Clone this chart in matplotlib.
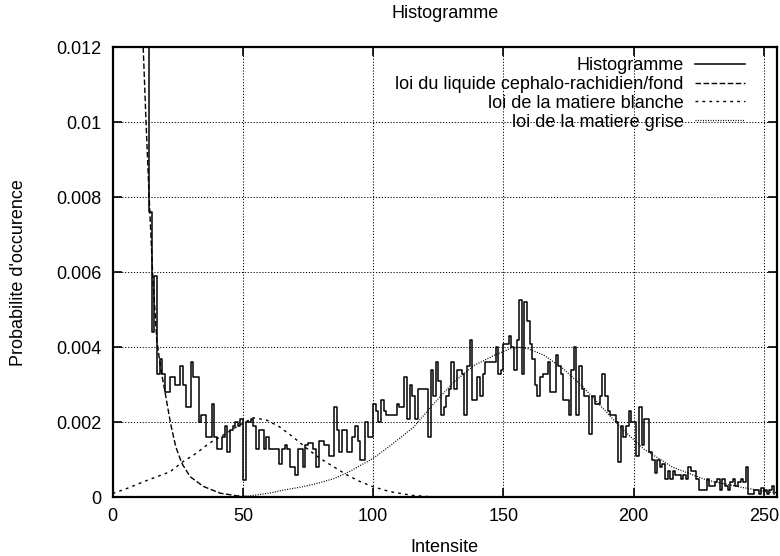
import numpy as np
from matplotlib import pyplot as plt

plt.rcParams['font.family'] = ['Liberation Sans', 'DejaVu Sans']

## histogram : probability per intensity bin (bins 13..254, nothing below 13)
intensity = np.arange(13, 255)
prob = [
    0.0200, 0.0076, 0.0044, 0.0059, 0.0033, 0.0037, 0.0033, 0.0028, 0.0028, 0.0032,
    0.0032, 0.0030, 0.0030, 0.0035, 0.0030, 0.0024, 0.0024, 0.0036, 0.0032, 0.0032,
    0.0020, 0.0022, 0.0022, 0.0016, 0.0016, 0.0025, 0.0016, 0.0013, 0.0013, 0.0016,
    0.0019, 0.0012, 0.0018, 0.0019, 0.0020, 0.0019, 0.0021, 0.00045, 0.0020, 0.0020,
    0.0021, 0.0019, 0.0013, 0.0018, 0.0018, 0.0013, 0.0016, 0.0013, 0.0013, 0.0013,
    0.0013, 0.0009, 0.0013, 0.0014, 0.0013, 0.0008, 0.0008, 0.0006, 0.0013, 0.0013,
    0.0008, 0.0014, 0.00145, 0.00145, 0.0013, 0.0008, 0.0015, 0.0015, 0.0014, 0.0014,
    0.0011, 0.0011, 0.0024, 0.0018, 0.0012, 0.0018, 0.0018, 0.0012, 0.0012, 0.0016,
    0.0019, 0.0015, 0.0010, 0.0010, 0.0020, 0.0016, 0.0016, 0.0025, 0.0023, 0.0020,
    0.0026, 0.0023, 0.0022, 0.0022, 0.0022, 0.0022, 0.0025, 0.0024, 0.0024, 0.0032,
    0.0021, 0.0030, 0.0027, 0.0021, 0.0029, 0.0029, 0.0029, 0.0029, 0.0016, 0.0034,
    0.0027, 0.0036, 0.0031, 0.0022, 0.0024, 0.0027, 0.0029, 0.0036, 0.0029, 0.0034,
    0.0034, 0.0033, 0.0022, 0.0035, 0.0042, 0.0026, 0.0026, 0.0032, 0.0027, 0.0033,
    0.0036, 0.0036, 0.0036, 0.0036, 0.0040, 0.0033, 0.0034, 0.0041, 0.0041, 0.0043,
    0.0040, 0.0034, 0.0042, 0.00525, 0.0033, 0.0052, 0.0047, 0.0041, 0.0037, 0.0030,
    0.0027, 0.0032, 0.0033, 0.0033, 0.0036, 0.0028, 0.0028, 0.0038, 0.0035, 0.0033,
    0.0026, 0.0026, 0.0022, 0.0034, 0.0040, 0.0022, 0.0035, 0.0029, 0.0027, 0.0027,
    0.0017, 0.0027, 0.0025, 0.0025, 0.0027, 0.0033, 0.0027, 0.0023, 0.0022, 0.0022,
    0.0020, 0.00094, 0.0019, 0.0016, 0.0019, 0.0023, 0.0020, 0.0020, 0.0011, 0.0024,
    0.0014, 0.0021, 0.0021, 0.0012, 0.0010, 0.00064, 0.0010, 0.0008, 0.0009, 0.0005,
    0.0007, 0.0005, 0.0007, 0.0006, 0.0006, 0.0005, 0.0006, 0.0005, 0.0008, 0.0007,
    0.0007, 0.0005, 0.0002, 0.0002, 0.0002, 0.0005, 0.0003, 0.0003, 0.0004, 0.0005,
    0.0002, 0.0005, 0.0003, 0.0002, 0.0004, 0.0005, 0.0003, 0.0004, 0.0005, 0.0004,
    0.0008, 0.0001, 0.0001, 0.0002, 0.0002, 0.0001, 0.00024, 0.0002, 0.0001, 0.0002,
    0.0003, 0.0001,
]

## fitted laws
csf_x = [11.0, 11.7, 12.8, 14.0, 15.3, 16.9, 18.5, 20.1, 22.2, 24.2, 26.5, 29.7, 34.8, 41.2, 47.6, 55.0]
csf_y = [0.0135, 0.0120, 0.0100, 0.0080, 0.0060, 0.0042, 0.0034, 0.0028, 0.00197, 0.00135,
         0.00091, 0.00055, 0.00029, 0.00011, 0.00004, 0.0]

wm_x = [0, 6, 12, 17, 22, 27, 32, 37, 42.5, 48, 54, 59, 64, 69, 74.4, 79.5, 84.7, 89.8, 94.9,
        100, 106.4, 115, 125]
wm_y = [0.0001, 0.00025, 0.00042, 0.00055, 0.00068, 0.00095, 0.00117, 0.00144, 0.00166,
        0.0019, 0.00212, 0.00206, 0.00188, 0.00162, 0.00131, 0.00104, 0.00082, 0.0006,
        0.00042, 0.00028, 0.00015, 0.00005, 0.0]

gm_x = [48, 55, 60, 65.5, 72, 78, 85, 91, 100, 107, 115.5, 123.3, 131, 138.8, 146.6, 152.4,
        156, 159.5, 165.5, 172.9, 180.6, 188.3, 196, 204, 215, 228, 241, 251, 255]
gm_y = [0.0, 0.00006, 0.00011, 0.00019, 0.00027, 0.00036, 0.0005, 0.00069, 0.00104, 0.0014,
        0.00187, 0.0025, 0.00308, 0.00352, 0.00379, 0.00396, 0.0040, 0.00396, 0.00379,
        0.00343, 0.00294, 0.00236, 0.00179, 0.00128, 0.0008, 0.00046, 0.00027, 0.00015,
        0.00012]

xticks = [0, 50, 100, 150, 200, 250]
yticks = [0, 0.002, 0.004, 0.006, 0.008, 0.01, 0.012]
ytick_labels = ['0', '0.002', '0.004', '0.006', '0.008', '0.01', '0.012']

## plot
fig = plt.figure(figsize=(7.8, 5.56), dpi=100)
ax = fig.add_axes([0.1445, 0.1056, 0.8517, 0.8094])

ax.step(intensity, prob, where='post', color='black', lw=1.1, label='Histogramme')
ax.plot(csf_x, csf_y, color='black', lw=1.0, ls=(0, (4, 1.8)),
        label='loi du liquide cephalo-rachidien/fond')
ax.plot(wm_x, wm_y, color='black', lw=1.0, ls=(0, (2, 3)), label='loi de la matiere blanche')
ax.plot(gm_x, gm_y, color='black', lw=0.9, ls=(0, (0.8, 1.2)), label='loi de la matiere grise')

ax.set_xlim(0, 255)
ax.set_ylim(0, 0.012)
ax.set_xticks(xticks)
ax.set_yticks(yticks)
ax.set_yticklabels(ytick_labels)
ax.tick_params(direction='in', length=6.5, width=1.2, top=True, right=True,
               labelsize=13, pad=8)
for s in ax.spines.values():
    s.set_linewidth(1.6)

ax.grid(True, color='black', lw=0.7, ls=(0, (1.2, 1.8)))

ax.set_title('Histogramme', fontsize=13, pad=21)
ax.set_xlabel('Intensite', fontsize=13, labelpad=10)
ax.set_ylabel("Probabilite d'occurence", fontsize=13, labelpad=21)

ax.legend(loc='upper right', bbox_to_anchor=(0.952, 0.978), frameon=False, markerfirst=False,
          fontsize=13, handlelength=2.8, handletextpad=0.6, labelspacing=0.1,
          borderpad=0, borderaxespad=0)

plt.savefig('out.png', dpi=100)
